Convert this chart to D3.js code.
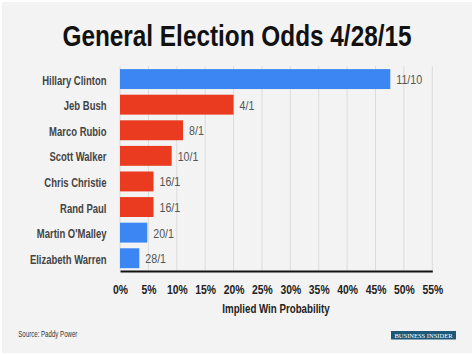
<!DOCTYPE html>
<html><head><meta charset="utf-8">
<script src="https://cdn.jsdelivr.net/npm/d3@7"></script>
<style>
html,body{margin:0;padding:0;background:#fff;}
svg{display:block;}
</style></head>
<body>
<script>
const categories = ["Hillary Clinton","Jeb Bush","Marco Rubio","Scott Walker","Chris Christie","Rand Paul","Martin O'Malley","Elizabeth Warren"];
const probabilities = [47.6, 20.0, 11.1, 9.1, 5.9, 5.9, 4.8, 3.4];
const oddsLabels = ["11/10","4/1","8/1","10/1","16/1","16/1","20/1","28/1"];
const parties = ["D","R","R","R","R","R","D","D"];
const tickValues = [0,5,10,15,20,25,30,35,40,45,50,55];

const W = 474, H = 355;
const sans = "'Liberation Sans',Arial,sans-serif";
const svg = d3.select("body").append("svg").attr("width", W).attr("height", H);

svg.append("rect").attr("width", W).attr("height", H).attr("fill", "#ffffff");
svg.append("rect").attr("x", 2).attr("y", 2).attr("width", W - 4).attr("height", H - 4).attr("fill", "#f3f3f3");

// condensed text helper: places text at (x,y) squeezed horizontally
function ctext(parent, x, y, s, txt) {
  return parent.append("text")
    .attr("transform", `translate(${x},${y}) scale(${s},1)`)
    .attr("font-family", sans)
    .text(txt);
}

ctext(svg, 237, 46, 0.84, "General Election Odds 4/28/15")
  .attr("text-anchor", "middle").attr("font-weight", "bold").attr("font-size", 29).attr("fill", "#111");

const x = d3.scaleLinear().domain([0, 55]).range([120, 432.3]);
const y = d3.scaleBand().domain(categories).range([66.3, 271]).paddingInner(0.222).paddingOuter(0.11);

const color = p => p === "D" ? "#3b86f2" : "#ea3a1f";

// gridlines
svg.append("g").selectAll("line").data(tickValues).join("line")
  .attr("x1", d => x(d)).attr("x2", d => x(d))
  .attr("y1", 66).attr("y2", 271)
  .attr("stroke", "#dcdcdc").attr("stroke-width", 1);

// bars
svg.append("g").selectAll("rect").data(categories).join("rect")
  .attr("x", x(0)).attr("y", d => y(d))
  .attr("width", (d, i) => x(probabilities[i]) - x(0))
  .attr("height", y.bandwidth())
  .attr("fill", (d, i) => color(parties[i]));

// value labels
const gv = svg.append("g");
categories.forEach((d, i) => {
  ctext(gv, x(probabilities[i]) + 6, y(d) + y.bandwidth() / 2 + 5, 0.82, oddsLabels[i])
    .attr("font-size", 13).attr("fill", "#555");
});

// category labels
const gc = svg.append("g");
categories.forEach((d) => {
  ctext(gc, 106.5, y(d) + y.bandwidth() / 2 + 5.5, 0.73, d)
    .attr("text-anchor", "end").attr("font-weight", "bold").attr("font-size", 13).attr("fill", "#444");
});

// x axis
const axis = d3.axisBottom(x).tickValues(tickValues).tickSize(0).tickPadding(0).tickFormat(d => d + "%");
const ax = svg.append("g").attr("transform", "translate(0,271)").call(axis);
ax.select(".domain").attr("stroke", "#111").attr("stroke-width", 2);
ax.selectAll(".tick text").attr("dy", null).attr("y", 23.5)
  .attr("transform", "scale(0.83,1)")
  .attr("font-family", sans).attr("font-weight", "bold").attr("font-size", 12.5)
  .attr("fill", "#222");

ctext(svg, 276, 313, 0.76, "Implied Win Probability")
  .attr("text-anchor", "middle").attr("font-weight", "bold").attr("font-size", 12.8).attr("fill", "#222");

// footer
ctext(svg, 18.3, 337, 0.72, "Source: Paddy Power")
  .attr("font-size", 8.5).attr("fill", "#333");

svg.append("rect").attr("x", 391).attr("y", 331).attr("width", 65).attr("height", 8.5).attr("fill", "#1e5878");
svg.append("text").attr("x", 423.5).attr("y", 337.8).attr("text-anchor", "middle")
  .attr("font-family", "'Liberation Serif','DejaVu Serif',serif").attr("font-size", 7)
  .attr("fill", "#ffffff").attr("textLength", 58).attr("lengthAdjust", "spacingAndGlyphs")
  .text("BUSINESS INSIDER");
</script>
</body></html>
